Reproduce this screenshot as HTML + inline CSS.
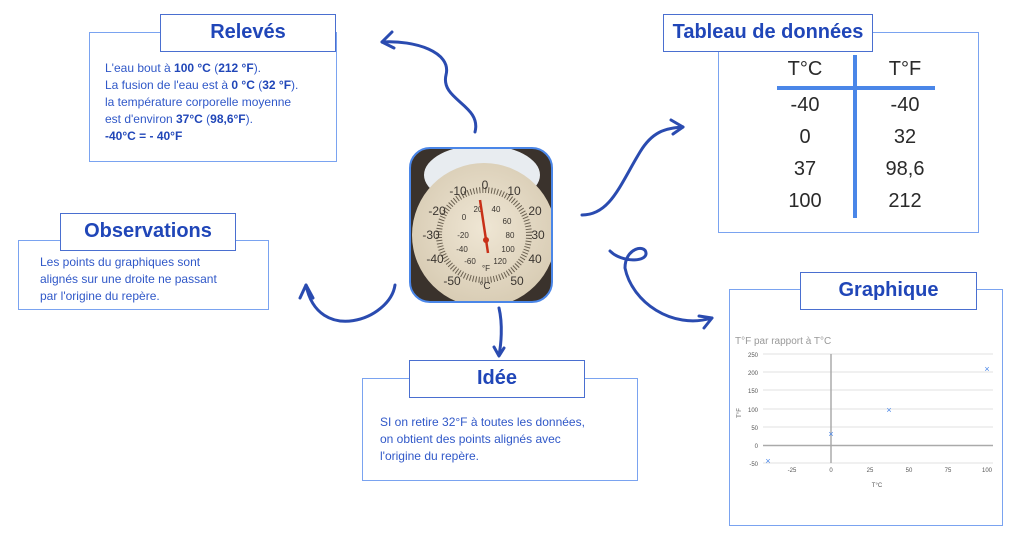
<!DOCTYPE html>
<html><head><meta charset="utf-8"><style>
*{margin:0;padding:0;box-sizing:border-box}
body{width:1024px;height:545px;background:#fff;position:relative;overflow:hidden;font-family:"Liberation Sans",sans-serif}
.box{position:absolute;border:1.5px solid #7aa3f0;background:#fff}
.tt{position:absolute;border:1.5px solid #4a6fd0;background:#fff;color:#2046b8;font-weight:bold;font-size:20px;text-align:center;line-height:35px}
.tx{position:absolute;color:#3058c8;font-size:12px;line-height:17px}
.tx b{color:#2046b8}
.tb{position:absolute;color:#2a2a2a;font-size:20px;width:80px;text-align:center}
</style></head><body>

<div class="box" style="left:89px;top:32px;width:248px;height:130px"></div>
<div class="tt" style="left:160px;top:14px;width:176px;height:38px">Relevés</div>
<div class="tx" style="left:105px;top:60px">L'eau bout à <b>100 °C</b> (<b>212 °F</b>).<br>La fusion de l'eau est à <b>0 °C</b> (<b>32 °F</b>).<br>la température corporelle moyenne<br>est d'environ <b>37°C</b> (<b>98,6°F</b>).<br><b>-40°C = - 40°F</b></div>

<div class="box" style="left:18px;top:240px;width:251px;height:70px"></div>
<div class="tt" style="left:60px;top:213px;width:176px;height:38px">Observations</div>
<div class="tx" style="left:40px;top:254px">Les points du graphiques sont<br>alignés sur une droite ne passant<br>par l'origine du repère.</div>

<div class="box" style="left:362px;top:378px;width:276px;height:103px"></div>
<div class="tt" style="left:409px;top:360px;width:176px;height:38px">Idée</div>
<div class="tx" style="left:380px;top:414px">SI on retire 32°F à toutes les données,<br>on obtient des points alignés avec<br>l'origine du repère.</div>

<div class="box" style="left:718px;top:32px;width:261px;height:201px"></div>
<div class="tt" style="left:663px;top:14px;width:210px;height:38px">Tableau de données</div>
<div style="position:absolute;left:853px;top:55px;width:4px;height:163px;background:#4a86e8"></div>
<div style="position:absolute;left:777px;top:86px;width:158px;height:4px;background:#4a86e8"></div>
<div class="tb" style="left:765px;top:58px">T°C</div><div class="tb" style="left:865px;top:58px">T°F</div>
<div class="tb" style="left:765px;top:94px">-40</div><div class="tb" style="left:865px;top:94px">-40</div>
<div class="tb" style="left:765px;top:126px">0</div><div class="tb" style="left:865px;top:126px">32</div>
<div class="tb" style="left:765px;top:158px">37</div><div class="tb" style="left:865px;top:158px">98,6</div>
<div class="tb" style="left:765px;top:190px">100</div><div class="tb" style="left:865px;top:190px">212</div>

<div class="box" style="left:729px;top:289px;width:274px;height:237px"></div>
<div class="tt" style="left:800px;top:272px;width:177px;height:38px">Graphique</div>
<svg style="position:absolute;left:0;top:0" width="1024" height="545">
<g font-family="Liberation Sans" fill="#555" font-size="6">
<text x="735" y="344" font-size="10" fill="#999">T°F par rapport à T°C</text>
<g stroke="#e2e2e2" stroke-width="1">
<line x1="763" y1="354" x2="993" y2="354"/><line x1="763" y1="372" x2="993" y2="372"/><line x1="763" y1="390" x2="993" y2="390"/><line x1="763" y1="409" x2="993" y2="409"/><line x1="763" y1="427" x2="993" y2="427"/><line x1="763" y1="463" x2="993" y2="463"/></g>
<line x1="763" y1="445.5" x2="993" y2="445.5" stroke="#aaa" stroke-width="1.5"/>
<line x1="831" y1="354" x2="831" y2="463" stroke="#aaa" stroke-width="1.5"/>
<g text-anchor="end"><text x="758" y="357">250</text><text x="758" y="375">200</text><text x="758" y="393">150</text><text x="758" y="412">100</text><text x="758" y="430">50</text><text x="758" y="448">0</text><text x="758" y="466">-50</text></g>
<g text-anchor="middle"><text x="792" y="472">-25</text><text x="831" y="472">0</text><text x="870" y="472">25</text><text x="909" y="472">50</text><text x="948" y="472">75</text><text x="987" y="472">100</text><text x="877" y="487">T°C</text></g>
<text x="741" y="413" transform="rotate(-90 741 413)" text-anchor="middle">T°F</text>
<g fill="#4a86e8" font-size="9" text-anchor="middle"><text x="768" y="464">×</text><text x="831" y="437">×</text><text x="889" y="413">×</text><text x="987" y="372">×</text></g>
</g>
<g fill="none" stroke="#2a4bb0" stroke-width="3" stroke-linecap="round" stroke-linejoin="round">
<path d="M475,132 C482,105 440,100 446,75 C452,52 415,40 382,42"/><path d="M392,32 L382,42 L394,48"/>
<path d="M582,215 C610,215 620,185 640,152 C652,132 665,128 683,127"/><path d="M671,120 L683,127 L673,134"/>
<path d="M610,251 C622,263 647,262 646,253 C645,244 625,248 625,268 C632,302 672,330 712,318"/><path d="M699,316 L712,318 L704,328"/>
<path d="M395,285 C390,320 318,345 306,285"/><path d="M300,298 L306,285 L313,298"/>
<path d="M499,308 C503,325 501,345 499,355"/><path d="M494,347 L499,356 L504,348"/>
</g>
<defs><clipPath id="c"><rect x="410" y="148" width="142" height="154" rx="20"/></clipPath>
<radialGradient id="f" cx="0.5" cy="0.45" r="0.55"><stop offset="0" stop-color="#efe6d4"/><stop offset="1" stop-color="#d8ccb4"/></radialGradient></defs>
<g clip-path="url(#c)">
<rect x="410" y="148" width="142" height="154" fill="#3a322c"/>
<ellipse cx="482" cy="175" rx="58" ry="30" fill="#e8ecf0"/>
<circle cx="484" cy="235" r="72" fill="url(#f)"/>
<circle cx="484" cy="235" r="45" fill="none" stroke="#6a6050" stroke-width="6" stroke-dasharray="1 2"/>
<g font-family="Liberation Sans" font-size="12" fill="#3a3530" text-anchor="middle">
<text x="485" y="189">0</text><text x="458" y="195">-10</text><text x="514" y="195">10</text><text x="437" y="215">-20</text><text x="535" y="215">20</text><text x="431" y="239">-30</text><text x="538" y="239">30</text><text x="435" y="263">-40</text><text x="535" y="263">40</text><text x="452" y="285">-50</text><text x="517" y="285">50</text><text x="485" y="289" font-size="10">°C</text>
<g font-size="8"><text x="478" y="212">20</text><text x="496" y="212">40</text><text x="464" y="220">0</text><text x="507" y="224">60</text><text x="463" y="238">-20</text><text x="510" y="238">80</text><text x="462" y="252">-40</text><text x="508" y="252">100</text><text x="470" y="264">-60</text><text x="500" y="264">120</text><text x="486" y="271">°F</text></g></g>
<path d="M480,200 L488,253" stroke="#c83018" stroke-width="2.5"/><circle cx="486" cy="240" r="3" fill="#c83018"/>
</g>
<rect x="410" y="148" width="142" height="154" rx="20" fill="none" stroke="#4a86e8" stroke-width="2"/>
</svg>
</body></html>
